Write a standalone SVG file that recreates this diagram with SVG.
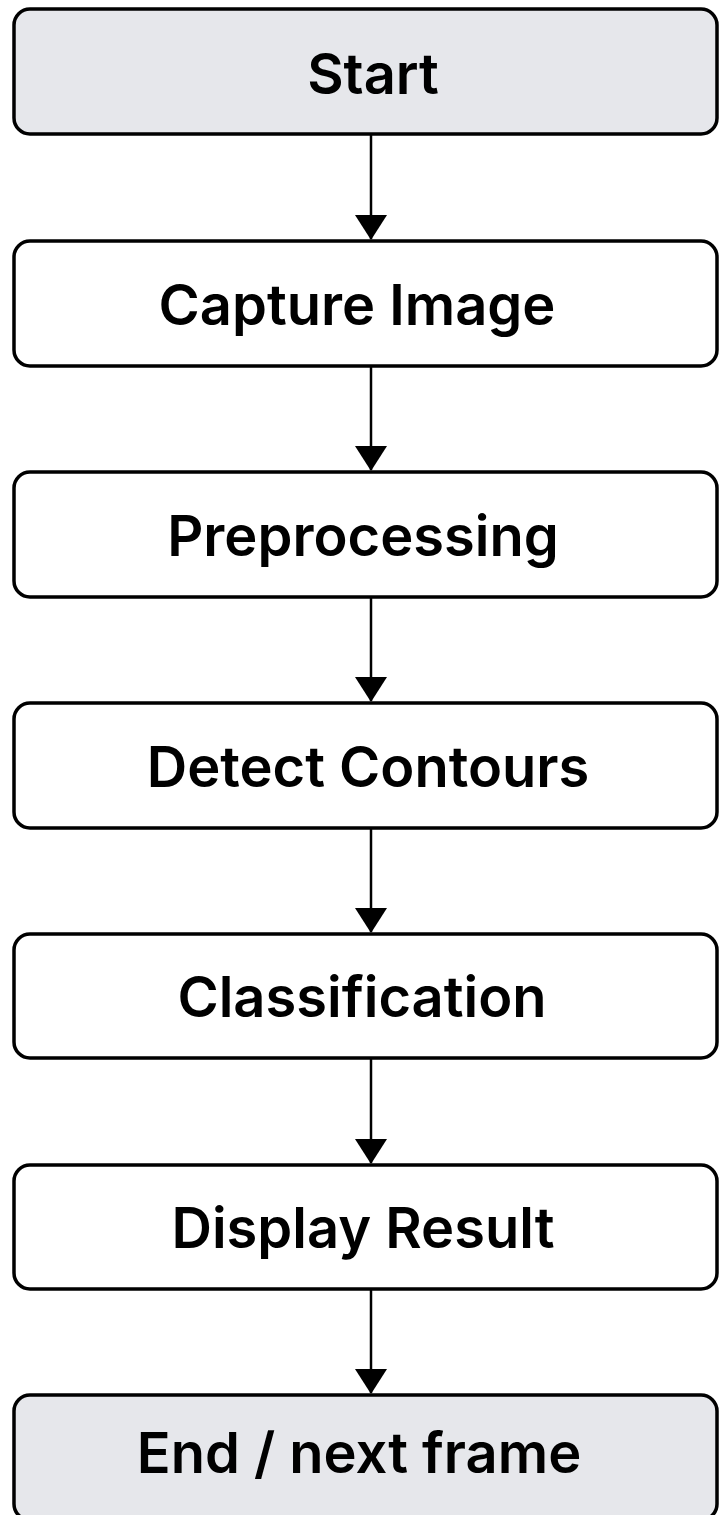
<svg xmlns="http://www.w3.org/2000/svg" width="720" height="1515" viewBox="0 0 720 1515">
<defs>
<style>
.box{fill:#ffffff;stroke:#000;stroke-width:3.5}
.term{fill:#e6e7eb;stroke:#000;stroke-width:3.5}
.lbl{font-family:Inter,"Liberation Sans",sans-serif;font-weight:600;font-size:56px;fill:#000;text-anchor:middle}
.conn{stroke:#000;stroke-width:2.5;fill:none}
</style>
<marker id="ah" markerUnits="userSpaceOnUse" markerWidth="26" markerHeight="34" refX="24" refY="16" orient="auto">
<path d="M0,0 L25,16 L0,32 Z" fill="#000"/>
</marker>
</defs>
<rect width="720" height="1515" fill="#fff"/>
<g id="connectors">
<line class="conn" x1="371" y1="134" x2="371" y2="239" marker-end="url(#ah)"/>
<line class="conn" x1="371" y1="366" x2="371" y2="470" marker-end="url(#ah)"/>
<line class="conn" x1="371" y1="597" x2="371" y2="701" marker-end="url(#ah)"/>
<line class="conn" x1="371" y1="828" x2="371" y2="932" marker-end="url(#ah)"/>
<line class="conn" x1="371" y1="1058" x2="371" y2="1163" marker-end="url(#ah)"/>
<line class="conn" x1="371" y1="1289" x2="371" y2="1393" marker-end="url(#ah)"/>
</g>
<g id="start"><rect class="term" x="14" y="9" width="703" height="125" rx="16"/><text class="lbl" x="373" y="94">Start</text></g>
<g id="capture"><rect class="box" x="14" y="241" width="703" height="125" rx="16"/><text class="lbl" x="357" y="325">Capture Image</text></g>
<g id="preprocessing"><rect class="box" x="14" y="472" width="703" height="125" rx="16"/><text class="lbl" x="363" y="556">Preprocessing</text></g>
<g id="detect"><rect class="box" x="14" y="703" width="703" height="125" rx="16"/><text class="lbl" x="368" y="787">Detect Contours</text></g>
<g id="classification"><rect class="box" x="14" y="934" width="703" height="124" rx="16"/><text class="lbl" x="362" y="1017">Classification</text></g>
<g id="display"><rect class="box" x="14" y="1165" width="703" height="124" rx="16"/><text class="lbl" x="363" y="1248">Display Result</text></g>
<g id="end"><rect class="term" x="14" y="1395" width="703" height="125" rx="16"/><text class="lbl" x="359" y="1473">End / next frame</text></g>
</svg>
